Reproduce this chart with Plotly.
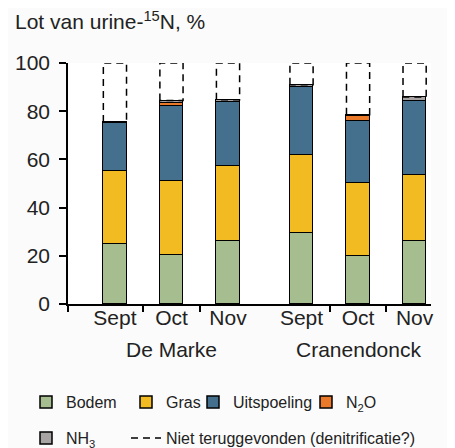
import plotly.graph_objects as go

# ---- data ----
months = ["Sept", "Oct", "Nov", "Sept", "Oct", "Nov"]
farms = ["De Marke", "Cranendonck"]
positions = [0, 1, 2, 3.3, 4.3, 5.3]
bodem = [24.9, 20.2, 26.3, 29.3, 19.9, 26.3]
gras = [30.2, 30.7, 31.1, 32.7, 30.4, 27.1]
uitspoeling = [20.0, 31.1, 26.3, 27.9, 25.5, 31.0]
n2o = [0.0, 1.3, 0.0, 0.0, 2.3, 0.0]
nh3 = [0.4, 1.1, 1.1, 1.1, 0.4, 1.5]
total = 100

series = [
    ("Bodem", bodem, "#a6bd8f"),
    ("Gras", gras, "#f2bb22"),
    ("Uitspoeling", uitspoeling, "#44708e"),
    ("N<sub>2</sub>O", n2o, "#ea7a2a"),
    ("NH<sub>3</sub>", nh3, "#a9a4a4"),
]

FONT = "Liberation Sans, Arial, sans-serif"
TXT = "#222222"
BAR_W = 0.41

fig = go.Figure()
legend_ids = ["legend", "legend2", "legend3", "legend4", "legend5", "legend6"]
for i, (name, vals, col) in enumerate(series):
    fig.add_trace(go.Bar(
        x=positions, y=vals, name=name, width=BAR_W,
        marker=dict(color=col, line=dict(color="black", width=1.5)),
        legend=legend_ids[i],
    ))

# dashed "not recovered" boxes, from stack top up to 100
xs, ys = [], []
for k, p in enumerate(positions):
    top = bodem[k] + gras[k] + uitspoeling[k] + n2o[k] + nh3[k]
    l, r = p - BAR_W / 2, p + BAR_W / 2
    xs += [l, l, r, r, l, None]
    ys += [top, total, total, top, top, None]
fig.add_trace(go.Scatter(
    x=xs, y=ys, mode="lines", name="Niet teruggevonden (denitrificatie?)",
    line=dict(color="black", width=1.5, dash="7px,5px"),
    cliponaxis=False, legend="legend6", hoverinfo="skip",
))

# group labels
g1 = sum(positions[:3]) / 3
g2 = sum(positions[3:]) / 3
for gx, label in zip([g1, g2], farms):
    fig.add_annotation(x=gx, y=-0.19, xref="x", yref="paper", text=label,
                       showarrow=False, font=dict(size=21, color=TXT, family=FONT),
                       yanchor="middle")

plot_l, plot_r = 60, 423
plot_w = plot_r - plot_l
def lx(px):
    return (px - plot_l) / plot_w

leg_common = dict(font=dict(size=16, color=TXT, family=FONT), bgcolor="rgba(0,0,0,0)",
                  xanchor="left", yanchor="middle", orientation="h")
row1 = (296 - 394) / 241
row2 = (296 - 430) / 241

fig.update_layout(
    width=455, height=448,
    margin=dict(l=plot_l, r=455 - plot_r, t=55, b=448 - 296, autoexpand=False),
    paper_bgcolor="#fbfbfb", plot_bgcolor="white",
    barmode="stack", bargap=0,
    font=dict(family=FONT, color=TXT),
    title=dict(text="Lot van urine-<sup>15</sup>N, %", x=7 / 455, xanchor="left",
               y=1 - 14 / 448, yanchor="middle", font=dict(size=21, color=TXT, family=FONT)),
    xaxis=dict(range=[-0.83, 5.59], tickmode="array", tickvals=positions, ticktext=months,
               ticks="", showline=True, linecolor="black", linewidth=1.5, showgrid=False,
               zeroline=False, tickfont=dict(size=21, color=TXT, family=FONT),
               ticklabelstandoff=-6,
               minor=dict(tickmode="array", tickvals=[-0.83, 0.5, 1.5, 3.8, 4.8],
                          ticks="outside", ticklen=6, tickwidth=1.5, tickcolor="black")),
    yaxis=dict(range=[0, 100], tickvals=[0, 20, 40, 60, 80, 100], ticks="outside",
               ticklen=7, tickwidth=1.5, tickcolor="black", showline=True, linecolor="black",
               linewidth=1.5, showgrid=False, zeroline=False, ticklabelstandoff=5,
               tickfont=dict(size=21, color=TXT, family=FONT)),
    showlegend=True,
    legend=dict(x=lx(18), y=row1, **leg_common),
    legend2=dict(x=lx(118), y=row1, **leg_common),
    legend3=dict(x=lx(185), y=row1, **leg_common),
    legend4=dict(x=lx(298), y=row1, **leg_common),
    legend5=dict(x=lx(18), y=row2, **leg_common),
    legend6=dict(x=lx(118), y=row2, **leg_common),
)

fig.write_html("out.html")
